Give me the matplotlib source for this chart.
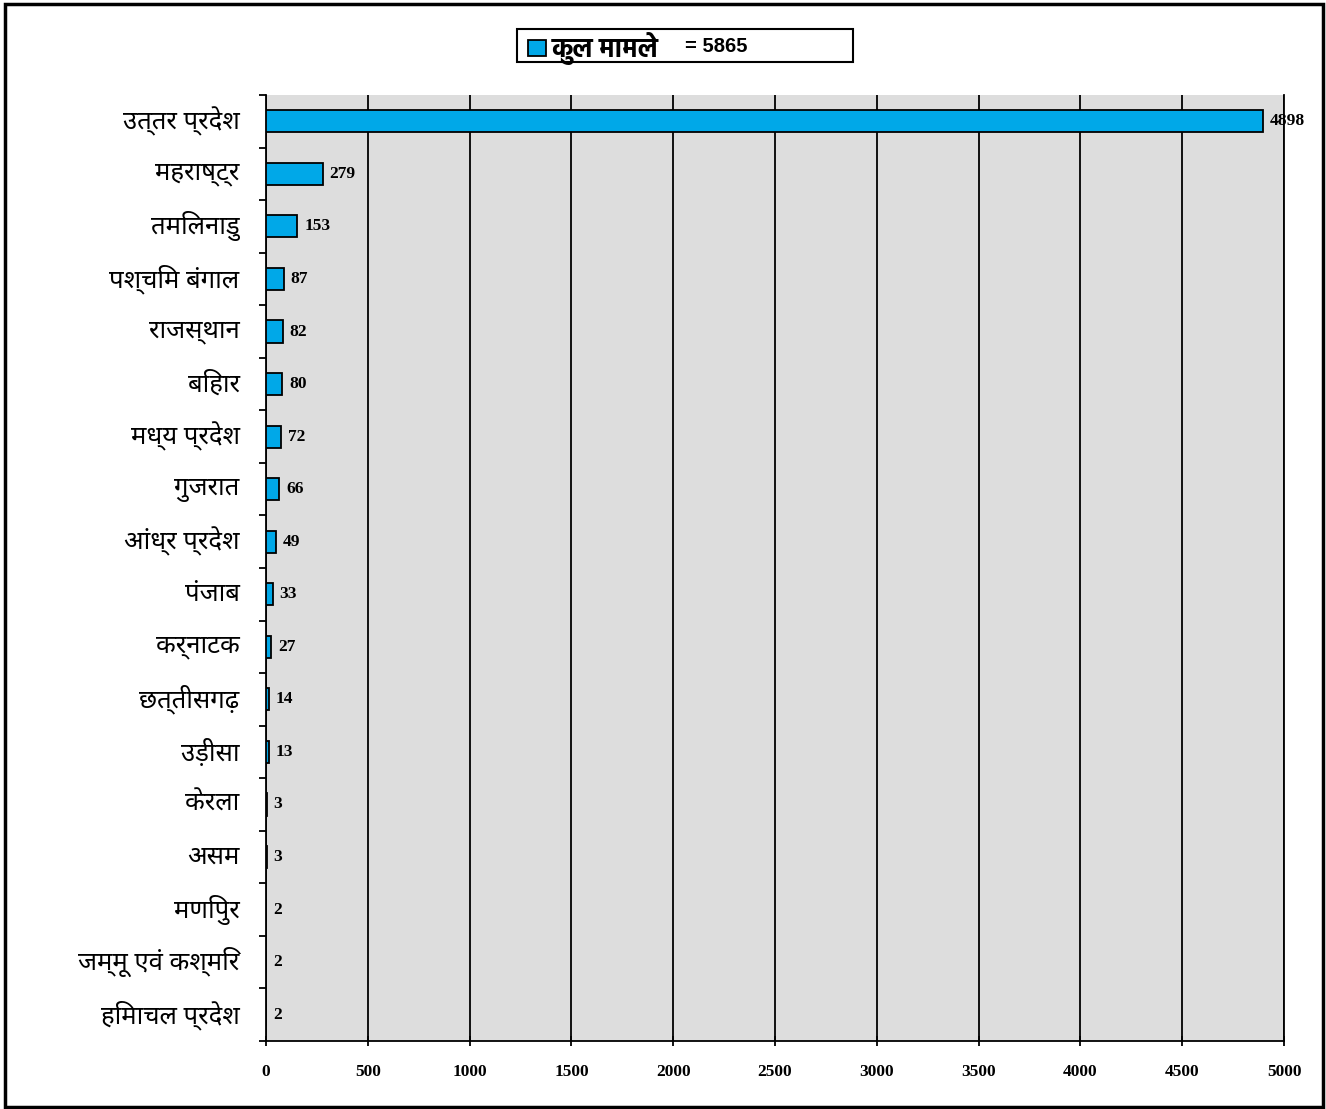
import numpy as np
import matplotlib
matplotlib.use("Agg")
import matplotlib.pyplot as plt
from matplotlib.patches import Rectangle
import logging
logging.getLogger('matplotlib.font_manager').setLevel(logging.ERROR)

# data
states = ['उत्तर प्रदेश', 'महराष्ट्र', 'तमिलनाडु', 'पश्चिम बंगाल', 'राजस्थान', 'बिहार',
          'मध्य प्रदेश', 'गुजरात', 'आंध्र प्रदेश', 'पंजाब', 'कर्नाटक', 'छत्तीसगढ़',
          'उड़ीसा', 'केरला', 'असम', 'मणिपुर', 'जम्मू एवं कश्मिर', 'हिमाचल प्रदेश']
cases = [4898, 279, 153, 87, 82, 80, 72, 66, 49, 33, 27, 14, 13, 3, 3, 2, 2, 2]
xticks = [0, 500, 1000, 1500, 2000, 2500, 3000, 3500, 4000, 4500, 5000]
legend_label = 'कुल मामले'
legend_total = '= %d' % sum(cases)

bar_color = '#00A8E8'
deva = ['Noto Sans Devanagari', 'Annapurna SIL', 'DejaVu Sans']
deva_bold = ['Hind', 'Mukta', 'Annapurna SIL', 'Noto Sans Devanagari']
num_font = dict(family='Liberation Serif', weight='bold', size=12.5)

W, H = 1326, 1109
fig = plt.figure(figsize=(W / 100, H / 100), dpi=100)
ax = fig.add_axes([266 / W, 1 - 1041 / H, (1284 - 266) / W, (1041 - 95) / H])
ax.set_facecolor('#DDDDDD')

y = np.arange(len(states))
bars = ax.barh(y, cases, height=0.42, color=bar_color, edgecolor='black',
               linewidth=1.3, zorder=3)

# value labels
for yi, v in zip(y, cases):
    ax.annotate(str(v), (v, yi), xytext=(5, 0), textcoords='offset points',
                va='center', ha='left', **num_font)

ax.set_xlim(0, 5000)
ax.set_ylim(len(states) - 0.5, -0.5)
ax.set_xticks(xticks)
ax.set_xticklabels([str(t) for t in xticks], **num_font)
ax.tick_params(axis='x', direction='inout', length=7, width=1.3, pad=13)
ax.xaxis.grid(True, color='black', linewidth=1.3, zorder=1)
ax.set_axisbelow(True)

# y ticks at category boundaries, labels at centres
ax.set_yticks(np.arange(-0.5, len(states)), labels=[])
ax.set_yticks(y, minor=True)
ax.set_yticklabels(states, minor=True, family=deva, size=18.5, va='center')
ax.tick_params(axis='y', which='major', direction='out', length=5, width=1.3)
ax.tick_params(axis='y', which='minor', length=0, pad=19)

ax.spines['top'].set_visible(False)
for s in ['left', 'bottom', 'right']:
    ax.spines[s].set_linewidth(1.3)

# legend box above the plot, drawn by hand
fig.patches.append(Rectangle((517 / W, 1 - 62 / H), 336 / W, 33 / H,
                             transform=fig.transFigure, facecolor='white',
                             edgecolor='black', linewidth=1.5))
fig.patches.append(Rectangle((528 / W, 1 - 56 / H), 18 / W, 16 / H,
                             transform=fig.transFigure, facecolor=bar_color,
                             edgecolor='black', linewidth=1.3))
fig.text(552 / W, 1 - 49 / H, legend_label, ha='left', va='center',
         family=deva_bold, weight='bold', size=19)
fig.text(685 / W, 1 - 47 / H, legend_total, ha='left', va='center',
         family='Liberation Sans', weight='bold', size=14.5)

# outer frame around the whole picture
fig.patches.append(Rectangle((5 / W, 2 / H), 1318 / W, 1103 / H,
                             transform=fig.transFigure, fill=False,
                             edgecolor='black', linewidth=2.5))

fig.savefig('out.png', dpi=100)
